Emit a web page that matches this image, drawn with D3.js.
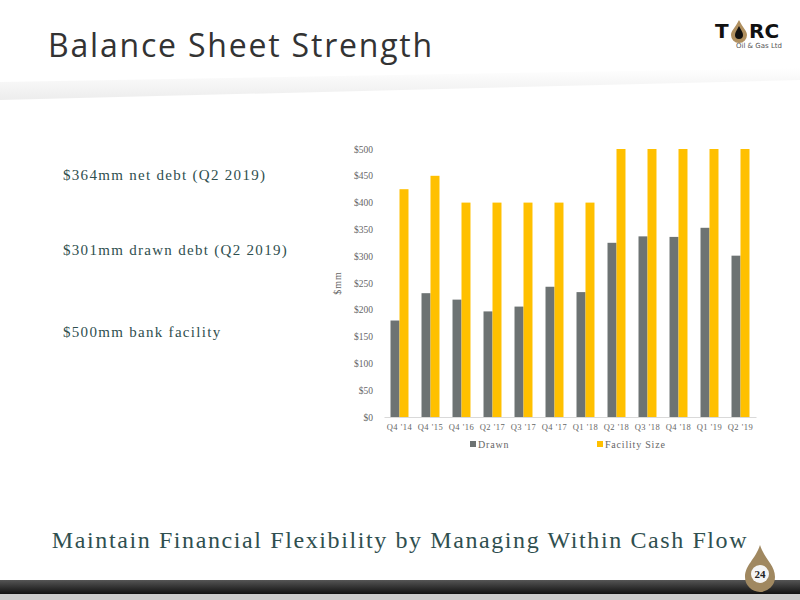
<!DOCTYPE html>
<html><head><meta charset="utf-8">
<script src="https://cdn.jsdelivr.net/npm/d3@7"></script>
<style>body{margin:0;background:#fff}</style></head>
<body><svg id="c" width="800" height="600"></svg>
<script>
const categories=["Q4 '14","Q4 '15","Q4 '16","Q2 '17","Q3 '17","Q4 '17","Q1 '18","Q2 '18","Q3 '18","Q4 '18","Q1 '19","Q2 '19"];
const drawn=[180,231,219,197,206,243,233,325,337,336,353,301];
const facility=[425,450,400,400,400,400,400,500,500,500,500,500];
const yTicks=[0,50,100,150,200,250,300,350,400,450,500];
const svg=d3.select("#c");
const defs=svg.append("defs");
const g1=defs.append("linearGradient").attr("id","hdr").attr("x1",0).attr("x2",0).attr("y1",0).attr("y2",1);
g1.append("stop").attr("offset",0).attr("stop-color","#fff");
g1.append("stop").attr("offset",1).attr("stop-color","#e8e8e8");
svg.append("path").attr("d","M0,82 L800,68 L800,80 L0,100Z").attr("fill","url(#hdr)").attr("opacity",0.8);
svg.append("text").attr("x",48).attr("y",57).attr("font-family","Open Sans").attr("font-size",32).attr("fill","#333").attr("letter-spacing",1.8).text("Balance Sheet Strength");
// logo
svg.append("text").attr("x",715).attr("y",38).attr("font-family","DejaVu Sans").attr("font-weight","bold").attr("font-size",20).attr("fill","#111").text("T");
svg.append("path").attr("d","M739,20 C735,28 731,31 731,35 A8,8 0 0 0 747,35 C747,31 743,28 739,20Z").attr("fill","#b09060");
svg.append("path").attr("d","M739,26 C737,30 735,32 735,35 A4,4 0 0 0 743,35 C743,32 741,30 739,26Z").attr("fill","#111");
svg.append("text").attr("x",749).attr("y",38).attr("font-family","DejaVu Sans").attr("font-weight","bold").attr("font-size",20).attr("fill","#111").text("RC");
svg.append("text").attr("x",736).attr("y",48).attr("font-family","DejaVu Sans").attr("font-size",7).attr("fill","#555").text("Oil & Gas Ltd");
const lt=[["$364mm net debt (Q2 2019)",180],["$301mm drawn debt (Q2 2019)",255],["$500mm bank facility",337]];
lt.forEach(d=>svg.append("text").attr("x",63).attr("y",d[1]).attr("font-family","Liberation Serif").attr("font-size",15).attr("fill","#2f4f4f").attr("letter-spacing",1.3).text(d[0]));
const x=d3.scaleBand().domain(categories).range([384,756]).paddingInner(0.42).paddingOuter(0.21);
const y=d3.scaleLinear().domain([0,500]).range([417,149]);
const bw=x.bandwidth()/2;
const ax=svg.append("g").attr("transform","translate(0,417)").call(d3.axisBottom(x).tickSize(0).tickPadding(7));
ax.select(".domain").attr("stroke","#d9d9d9");
ax.selectAll("text").attr("font-family","Liberation Serif").attr("font-size",8.5).attr("fill","#666").attr("letter-spacing",0.5);
const ay=svg.append("g").attr("transform","translate(376,0)").call(d3.axisLeft(y).tickValues(yTicks).tickSize(0).tickFormat(d=>"$"+d));
ay.select(".domain").remove();
ay.selectAll("text").attr("font-family","Liberation Serif").attr("font-size",9.5).attr("fill","#666");
svg.append("text").attr("transform","translate(341,283) rotate(-90)").attr("text-anchor","middle").attr("font-family","Liberation Serif").attr("font-size",10).attr("fill","#666").attr("letter-spacing",1).text("$mm");
svg.selectAll(".d").data(drawn).join("rect").attr("x",(d,i)=>x(categories[i])).attr("y",d=>y(d)).attr("width",bw).attr("height",d=>417-y(d)).attr("fill","#6d7373");
svg.selectAll(".f").data(facility).join("rect").attr("x",(d,i)=>x(categories[i])+bw).attr("y",d=>y(d)).attr("width",bw).attr("height",d=>417-y(d)).attr("fill","#ffc000");
[["Drawn","#6d7373",470],["Facility Size","#ffc000",597]].forEach(d=>{
 svg.append("rect").attr("x",d[2]).attr("y",441).attr("width",6).attr("height",6).attr("fill",d[1]);
 svg.append("text").attr("x",d[2]+8).attr("y",448).attr("font-family","Liberation Serif").attr("font-size",10).attr("fill","#666").attr("letter-spacing",0.8).text(d[0]);
});
svg.append("text").attr("x",400).attr("y",548).attr("text-anchor","middle").attr("font-family","Liberation Serif").attr("font-size",24).attr("fill","#2f4f4f").attr("letter-spacing",1.6).text("Maintain Financial Flexibility by Managing Within Cash Flow");
const g2=defs.append("linearGradient").attr("id","bot").attr("x1",0).attr("x2",0).attr("y1",0).attr("y2",1);
g2.append("stop").attr("offset",0).attr("stop-color","#555");
g2.append("stop").attr("offset",1).attr("stop-color","#111");
svg.append("rect").attr("x",0).attr("y",580).attr("width",800).attr("height",14).attr("fill","url(#bot)");
svg.append("rect").attr("x",0).attr("y",594).attr("width",800).attr("height",6).attr("fill","#ccc");
svg.append("path").attr("d","M760,545 C755,560 745,565 745,577 A15,15 0 0 0 775,577 C775,565 765,560 760,545Z").attr("fill","#a08860");
svg.append("circle").attr("cx",760).attr("cy",574).attr("r",9).attr("fill","#f5f5f5");
svg.append("text").attr("x",760).attr("y",578).attr("text-anchor","middle").attr("font-family","Liberation Serif").attr("font-weight","bold").attr("font-size",11).attr("fill","#222").text("24");
</script></body></html>
